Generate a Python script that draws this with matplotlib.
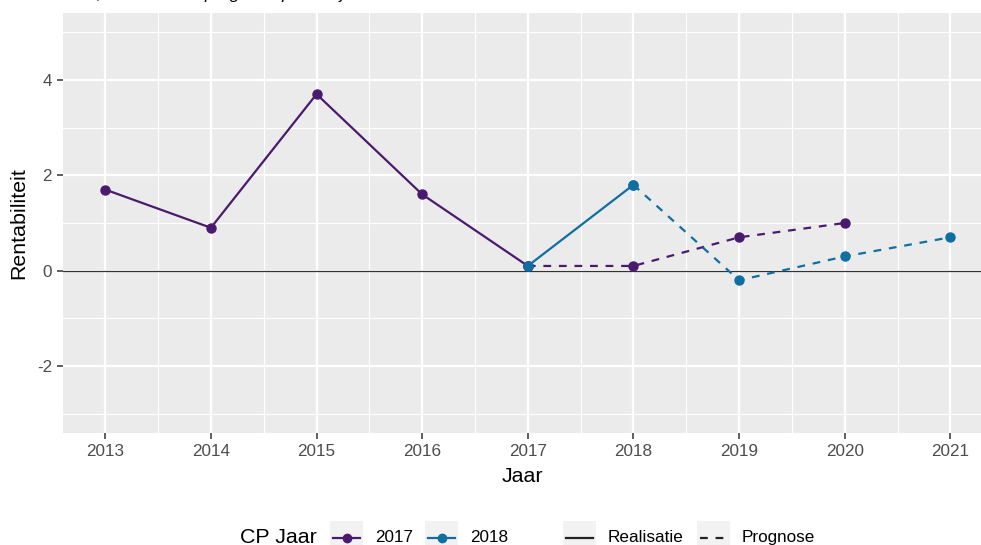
import matplotlib
matplotlib.use("Agg")
import matplotlib.pyplot as plt
from matplotlib.lines import Line2D
from matplotlib.patches import Rectangle
import numpy as np

plt.rcParams["font.family"] = ["Liberation Sans", "DejaVu Sans"]
plt.rcParams["axes.unicode_minus"] = False

# data
jaren_2017_real = [2013, 2014, 2015, 2016, 2017]
rent_2017_real = [1.7, 0.9, 3.7, 1.6, 0.1]
jaren_2017_prog = [2017, 2018, 2019, 2020]
rent_2017_prog = [0.1, 0.1, 0.7, 1.0]
jaren_2018_real = [2017, 2018]
rent_2018_real = [0.1, 1.8]
jaren_2018_prog = [2018, 2019, 2020, 2021]
rent_2018_prog = [1.8, -0.2, 0.3, 0.7]
cp_jaren = ["2017", "2018"]
typen = ["Realisatie", "Prognose"]

kleur_2017 = "#4a1b6c"
kleur_2018 = "#0f6fa0"
dash = (0, (3.5, 3.5))

W, H = 981, 545
fig = plt.figure(figsize=(W / 100, H / 100), dpi=100)
ax = fig.add_axes([63 / W, 112 / H, 1 - 63 / W, 420 / H])
ax.set_facecolor("#EBEBEB")
for s in ax.spines.values():
    s.set_visible(False)

ax.set_xticks(range(2013, 2022))
ax.set_xticks(np.arange(2013.5, 2021.6, 1), minor=True)
ax.set_yticks([-2, 0, 2, 4])
ax.set_yticks([-3, -1, 1, 3, 5], minor=True)
ax.set_xlim(2012.6, 2021.29)
ax.set_ylim(-3.4, 5.4)
ax.grid(which="major", color="white", lw=1.6)
ax.grid(which="minor", color="white", lw=0.8)
ax.set_axisbelow(True)
ax.tick_params(which="major", length=4, width=1.1, color="#333333",
               labelcolor="#4D4D4D", labelsize=12.3, pad=4)
ax.tick_params(which="minor", length=0)

ax.axhline(0, color="#333333", lw=0.9, zorder=2)

ax.plot(jaren_2017_real, rent_2017_real, color=kleur_2017, lw=1.6, marker="o", ms=6.5, zorder=3)
ax.plot(jaren_2017_prog, rent_2017_prog, color=kleur_2017, lw=1.6, ls=dash, marker="o", ms=6.5, zorder=3)
ax.plot(jaren_2018_real, rent_2018_real, color=kleur_2018, lw=1.6, marker="o", ms=6.5, zorder=3)
ax.plot(jaren_2018_prog, rent_2018_prog, color=kleur_2018, lw=1.6, ls=dash, marker="o", ms=6.5, zorder=3)

ax.set_xlabel("Jaar", fontsize=15.4, labelpad=6)
ax.set_ylabel("Rentabiliteit", fontsize=15.4, labelpad=6)

# title that falls (almost) outside the top of the picture
fig.text(0.006, 1 + 1.5 / H, "Rentabiliteit, realisatie en prognose per CP jaar",
         style="italic", fontsize=12.5, va="baseline", ha="left")

# legend drawn by hand at the bottom (ggplot style, keys with grey boxes)
def px(x, y):
    return x / W, 1 - y / H

yl = 537.5
fig.text(*px(240, yl), "CP Jaar", fontsize=15.4, va="center", ha="left")
for x0, lab, kl in zip([330, 425], cp_jaren, [kleur_2017, kleur_2018]):
    fig.add_artist(Rectangle(px(x0, yl + 17), 33 / W, 34 / H, transform=fig.transFigure,
                             facecolor="#F2F2F2", edgecolor="none"))
    fig.add_artist(Line2D([(x0 + 3) / W, (x0 + 30) / W], [px(0, yl)[1]] * 2,
                          transform=fig.transFigure, color=kl, lw=1.6))
    fig.add_artist(Line2D([(x0 + 16.5) / W], [px(0, yl)[1]], transform=fig.transFigure,
                          color=kl, marker="o", ms=6))
    fig.text(*px(x0 + 45, yl), lab, fontsize=12.3, va="center", ha="left")
for x0, lab, ls in zip([563, 697], typen, ["-", dash]):
    fig.add_artist(Rectangle(px(x0, yl + 17), 33 / W, 34 / H, transform=fig.transFigure,
                             facecolor="#F2F2F2", edgecolor="none"))
    fig.add_artist(Line2D([(x0 + 3) / W, (x0 + 30) / W], [px(0, yl)[1]] * 2,
                          transform=fig.transFigure, color="#222222", lw=1.6, ls=ls))
    fig.text(*px(x0 + 45, yl), lab, fontsize=12.3, va="center", ha="left")

fig.savefig("out.png", dpi=100)
